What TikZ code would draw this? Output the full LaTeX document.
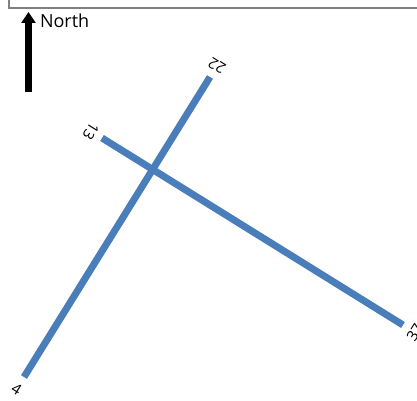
\documentclass[tikz,border=0pt]{standalone}
\usepackage{fontspec}
\setmainfont{Open Sans}
\usetikzlibrary{arrows.meta,calc}
\definecolor{road}{HTML}{4A7EBB}
\definecolor{frame}{HTML}{808080}
\tikzset{sc/.style={x=1pt,y=1pt,line width=2pt},
  street/.style={road,line width=7pt},
  lbl/.style={inner sep=0pt,font=\fontsize{15}{15}\selectfont}}

\begin{document}
\begin{tikzpicture}[sc]
  \useasboundingbox (0,0) rectangle (417,400);
  % frame (top and left only)
  \draw[frame] (8.5,400) -- (8.5,391.5) -- (417,391.5);
  % north arrow
  \coordinate (nS) at (28.5,308);
  \coordinate (nT) at (28.5,388);
  \draw[line width=7pt,-{Triangle[width=14pt,length=11pt]}] (nS) -- (nT);
  \node[inner sep=0pt,anchor=base west,font=\fontsize{18}{18}\selectfont] (north) at (39,372.5){North};
  % streets
  \coordinate (p4) at (24,23);
  \coordinate (p22) at (210,323);
  \coordinate (p13) at (102,262);
  \coordinate (p37) at (403,75);
  \draw[street] (p4) -- (p22);
  \draw[street] (p13) -- (p37);
  \node[lbl,rotate=-31.8] (l4) at ($(p4)!-14pt!(p22)$){4};
  \node[lbl,rotate=148.2] (l22) at ($(p22)!-13pt!(p4)$){22};
  \node[lbl,rotate=-121.8] (l13) at ($(p13)!-13pt!(p37)$){13};
  \node[lbl,rotate=58.2] (l37) at ($(p37)!-14pt!(p13)$){37};
\end{tikzpicture}
\end{document}
